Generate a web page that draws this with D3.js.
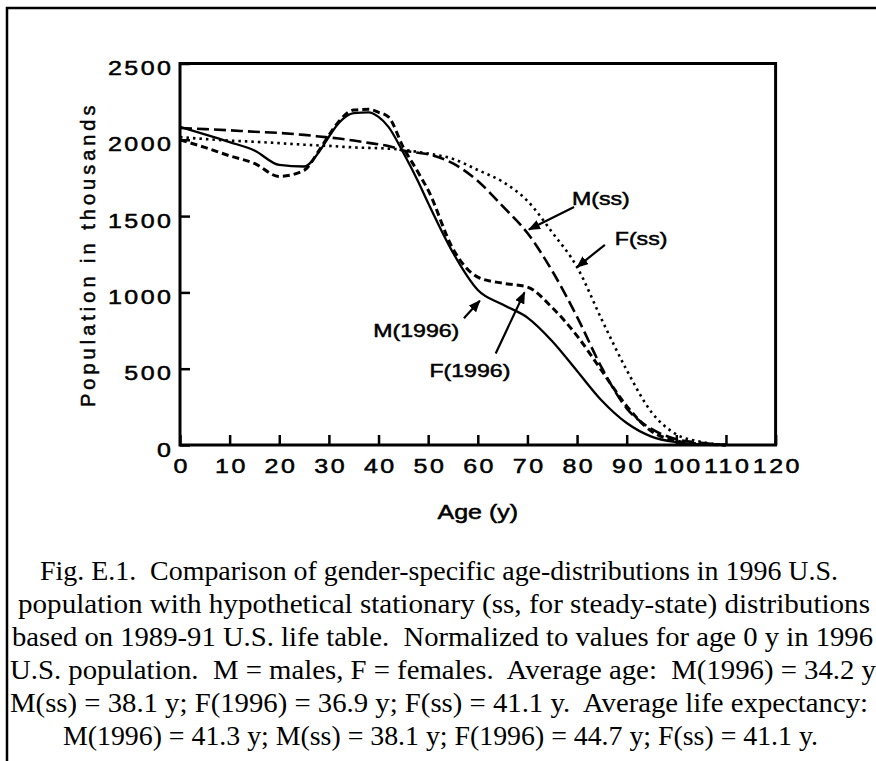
<!DOCTYPE html>
<html>
<head>
<meta charset="utf-8">
<script src="https://cdn.jsdelivr.net/npm/d3@7"></script>
<style>
  html, body { margin: 0; padding: 0; background: #fff; }
  svg { display: block; }
  text { white-space: pre; }
</style>
</head>
<body>
<svg id="chart" width="876" height="761"></svg>
<script>
// Ages (years) at which each distribution is sampled
const ages = [0, 5, 10, 15, 20, 25, 28, 30, 32, 35, 38, 40, 42, 45, 48, 50, 55, 60, 65, 70, 75, 80, 85, 90, 95, 100, 105, 110];

// Population in thousands, 1996 U.S. population
const male1996   = [2085, 2035, 1985, 1930, 1835, 1825, 1920, 2020, 2110, 2175, 2180, 2150, 2085, 1915, 1725, 1585, 1260, 1016, 920, 835, 680, 485, 290, 144, 55, 18, 4, 0];
const female1996 = [2000, 1950, 1895, 1845, 1760, 1800, 1930, 2030, 2120, 2195, 2200, 2180, 2150, 1950, 1785, 1670, 1285, 1100, 1060, 1035, 900, 715, 485, 255, 90, 28, 6, 0];

// Stationary (steady-state) distributions from the 1989-91 life table
const maleSS   = [2077, 2070, 2062, 2053, 2045, 2032, 2022, 2015, 2008, 1995, 1980, 1970, 1960, 1930, 1915, 1905, 1845, 1730, 1565, 1389, 1140, 840, 505, 240, 105, 38, 14, 0];
const femaleSS = [2018, 2005, 1995, 1987, 1978, 1968, 1963, 1960, 1956, 1950, 1947, 1945, 1942, 1935, 1920, 1910, 1875, 1802, 1725, 1600, 1393, 1166, 820, 491, 215, 70, 20, 0];

// Axis ticks
const xTicks = [0, 10, 20, 30, 40, 50, 60, 70, 80, 90, 100, 110, 120];
const yTicks = [0, 500, 1000, 1500, 2000, 2500];

// Curve labels with their pointer arrows (age, population)
const labelNames = ["M(ss)", "F(ss)", "M(1996)", "F(1996)"];
const labelAt    = [[84.8, 1618], [92.9, 1356], [47.6, 755], [58.4, 491]];
const arrowFrom  = [[79.4, 1560], [85.6, 1312], [57.2, 830], [63.6, 600]];
const arrowTo    = [[70.3, 1412], [80.0, 1166], [60.4, 945], [69.4, 1000]];

const caption = [
  "Fig. E.1.  Comparison of gender-specific age-distributions in 1996 U.S.",
  "population with hypothetical stationary (ss, for steady-state) distributions",
  "based on 1989-91 U.S. life table.  Normalized to values for age 0 y in 1996",
  "U.S. population.  M = males, F = females.  Average age:  M(1996) = 34.2 y",
  "M(ss) = 38.1 y; F(1996) = 36.9 y; F(ss) = 41.1 y.  Average life expectancy:",
  "M(1996) = 41.3 y; M(ss) = 38.1 y; F(1996) = 44.7 y; F(ss) = 41.1 y."
];
// caption line extents (left, right) in pixels
const captionSpan = [[40, 838], [18, 870], [12, 873], [10, 876], [10, 868], [63, 818]];

const series = [
  { values: male1996,   dash: null,    width: 2.3 },
  { values: female1996, dash: "7,4",   width: 3.0 },
  { values: maleSS,     dash: "12,5",  width: 2.6 },
  { values: femaleSS,   dash: "2.5,4", width: 2.6 }
];

const svg = d3.select("#chart");
const SANS = "'Liberation Sans', Arial, Helvetica, sans-serif";
const SERIF = "'Liberation Serif', 'Times New Roman', serif";
const STRETCH = 1.25;   // wide lettering
const LS = 2;           // tick label letter spacing

const x = d3.scaleLinear().domain([0, 120]).range([180, 775.6]);
const y = d3.scaleLinear().domain([0, 2500]).range([445, 63.5]);

// outer figure frame (left and top rules)
svg.append("path")
  .attr("d", "M7,761 L7,8 L876,8")
  .attr("fill", "none").attr("stroke", "#000").attr("stroke-width", 2.5);

// arrowhead marker
svg.append("defs").append("marker")
  .attr("id", "head")
  .attr("viewBox", "0 0 12 10")
  .attr("markerUnits", "userSpaceOnUse")
  .attr("markerWidth", 12).attr("markerHeight", 10)
  .attr("refX", 11).attr("refY", 5)
  .attr("orient", "auto")
  .append("path").attr("d", "M0,0 L12,5 L0,10 Z").attr("fill", "#000");

// curves
const line = d3.line()
  .x((d, i) => x(ages[i]))
  .y(d => y(d))
  .curve(d3.curveMonotoneX);

const plot = svg.append("g");
series.forEach(s => {
  plot.append("path")
    .attr("d", line(s.values))
    .attr("fill", "none")
    .attr("stroke", "#000")
    .attr("stroke-width", s.width)
    .attr("stroke-dasharray", s.dash)
    .attr("stroke-linejoin", "round");
});

// bottom axis: inward ticks, labels below
const xAxis = svg.append("g")
  .attr("transform", `translate(0,${y(0)})`)
  .call(d3.axisBottom(x).tickValues(xTicks).tickSizeInner(-10).tickSizeOuter(0).tickFormat(d3.format("d")));
xAxis.select(".domain").remove();
xAxis.selectAll(".tick line").attr("stroke", "#000").attr("stroke-width", 2.5);
xAxis.selectAll(".tick text")
  .attr("y", 28).attr("dy", null).attr("x", LS / 2)
  .attr("letter-spacing", LS)
  .attr("transform", `scale(${STRETCH},1)`)
  .attr("font-family", SANS).attr("font-size", 20)
  .attr("fill", "#000").attr("stroke", "#000").attr("stroke-width", 0.5);

// left axis: inward ticks, labels to the left
const yAxis = svg.append("g")
  .attr("transform", `translate(${x(0)},0)`)
  .call(d3.axisLeft(y).tickValues(yTicks).tickSizeInner(-10).tickSizeOuter(0).tickFormat(d3.format("d")));
yAxis.select(".domain").remove();
yAxis.selectAll(".tick line").attr("stroke", "#000").attr("stroke-width", 2.5);
yAxis.selectAll(".tick text")
  .attr("x", -9 / STRETCH + LS).attr("dy", "0.55em")
  .attr("letter-spacing", LS)
  .attr("transform", `scale(${STRETCH},1)`)
  .attr("font-family", SANS).attr("font-size", 20)
  .attr("fill", "#000").attr("stroke", "#000").attr("stroke-width", 0.5);

// plot frame
svg.append("rect")
  .attr("x", x(0)).attr("y", y(2500))
  .attr("width", x(120) - x(0)).attr("height", y(0) - y(2500))
  .attr("fill", "none").attr("stroke", "#000").attr("stroke-width", 3);

function wideText(px, py, str, opts) {
  return svg.append("text")
    .attr("transform", `translate(${px},${py}) scale(${STRETCH},1)`)
    .attr("text-anchor", opts.anchor || "middle")
    .attr("font-family", opts.family || SANS)
    .attr("font-size", opts.size)
    .attr("fill", "#000")
    .attr("stroke", opts.stroke ? "#000" : null)
    .attr("stroke-width", opts.stroke || null)
    .text(str);
}

// axis titles
wideText((x(0) + x(120)) / 2, 519, "Age (y)", { size: 20, stroke: 0.5 });
svg.append("text")
  .attr("transform", `translate(95,${(y(0) + y(2500)) / 2}) rotate(-90)`)
  .attr("text-anchor", "middle")
  .attr("font-family", SANS).attr("font-size", 20)
  .attr("letter-spacing", 4)
  .attr("fill", "#000").attr("stroke", "#000").attr("stroke-width", 0.5)
  .text("Population in thousands");

// curve labels and arrows
labelNames.forEach((name, i) => {
  wideText(x(labelAt[i][0]), y(labelAt[i][1]) + 7, name, { size: 18.5, stroke: 0.5 });
  svg.append("line")
    .attr("x1", x(arrowFrom[i][0])).attr("y1", y(arrowFrom[i][1]))
    .attr("x2", x(arrowTo[i][0])).attr("y2", y(arrowTo[i][1]))
    .attr("stroke", "#000").attr("stroke-width", 2.2)
    .attr("marker-end", "url(#head)");
});

// figure caption
caption.forEach((t, i) => {
  const [l, r] = captionSpan[i];
  svg.append("text")
    .attr("x", l).attr("y", 580 + i * 33)
    .attr("textLength", r - l)
    .attr("lengthAdjust", "spacingAndGlyphs")
    .attr("font-family", SERIF).attr("font-size", 28)
    .attr("fill", "#000")
    .attr("xml:space", "preserve")
    .text(t);
});
</script>
</body>
</html>
